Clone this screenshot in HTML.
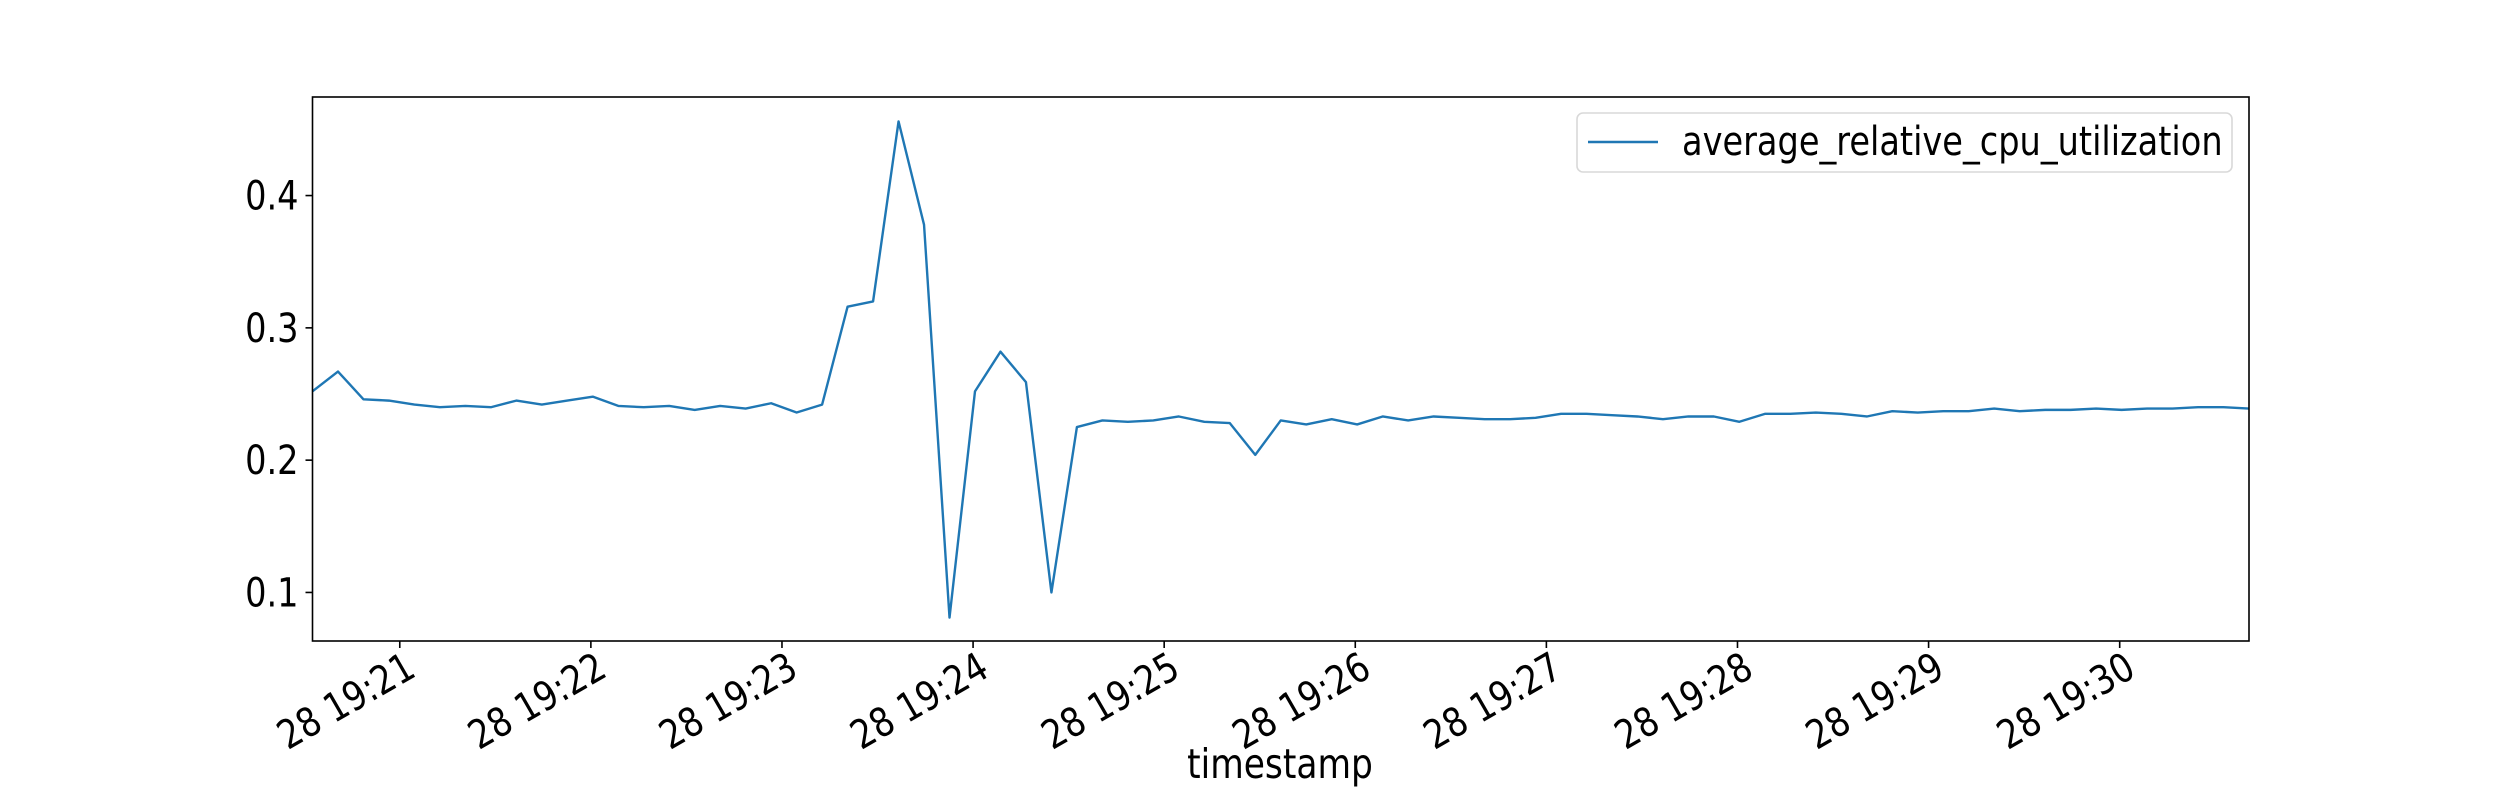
<!DOCTYPE html>
<html><head><meta charset="utf-8"><style>
html,body{margin:0;padding:0;background:#fff;}
svg{display:block;font-family:"DejaVu Sans","Liberation Sans",sans-serif;}
</style></head><body>
<svg id="chart" width="2500" height="800" viewBox="0 0 2500 800" xmlns="http://www.w3.org/2000/svg">
<rect x="0" y="0" width="2500" height="800" fill="#fff"/>
<polyline id="series-line" fill="none" stroke="#1f77b4" stroke-width="2.4" stroke-linejoin="round"/>
<rect x="312.5" y="97" width="1936.5" height="544" fill="none" stroke="#000" stroke-width="1.6"/>
<g id="yticks"></g>
<g id="xticks"></g>
<text transform="translate(1280 778) scale(0.84 1)" text-anchor="middle" font-size="41">timestamp</text>
<g>
<rect x="1577" y="113" width="655" height="59" rx="6" fill="#fff" stroke="#d9d9d9" stroke-width="1.6"/>
<line x1="1588" y1="142" x2="1658" y2="142" stroke="#1f77b4" stroke-width="2.6"/>
<text transform="translate(1682 155) scale(0.84 1)" font-size="40">average_relative_cpu_utilization</text>
</g>
</svg>
<script>
const values = [0.252,0.267,0.246,0.245,0.242,0.240,0.241,0.240,0.245,0.242,0.245,0.248,0.241,0.240,0.241,0.238,0.241,0.239,0.243,0.236,0.242,0.316,0.320,0.456,0.378,0.081,0.252,0.282,0.259,0.100,0.225,0.230,0.229,0.230,0.233,0.229,0.228,0.204,0.230,0.227,0.231,0.227,0.233,0.230,0.233,0.232,0.231,0.231,0.232,0.235,0.235,0.234,0.233,0.231,0.233,0.233,0.229,0.235,0.235,0.236,0.235,0.233,0.237,0.236,0.237,0.237,0.239,0.237,0.238,0.238,0.239,0.238,0.239,0.239,0.240,0.240,0.239];
const startSec = 19*3600 + 20*60 + 32.6;
const stepSec = 8;
const yTicks = [0.1, 0.2, 0.3, 0.4];
const yTickLabels = ["0.1", "0.2", "0.3", "0.4"];
const xTickMinutes = [21,22,23,24,25,26,27,28,29,30];
const xTickLabels = ["28 19:21","28 19:22","28 19:23","28 19:24","28 19:25","28 19:26","28 19:27","28 19:28","28 19:29","28 19:30"];

const NS = "http://www.w3.org/2000/svg";
const L = 312.5, R = 2249, T = 97, B = 641;
const yMin = 0.0633, yMax = 0.4745;
const times = values.map((v, i) => startSec + i * stepSec);
const tMin = times[0], tMax = times[times.length - 1];
const xs = t => L + (t - tMin) / (tMax - tMin) * (R - L);
const ys = v => B - (v - yMin) / (yMax - yMin) * (B - T);

document.getElementById('series-line').setAttribute('points',
  values.map((v, i) => xs(times[i]).toFixed(2) + ',' + ys(v).toFixed(2)).join(' '));

const yg = document.getElementById('yticks');
yTicks.forEach((v, i) => {
  const y = ys(v);
  const ln = document.createElementNS(NS, 'line');
  ln.setAttribute('x1', L - 7); ln.setAttribute('x2', L); ln.setAttribute('y1', y); ln.setAttribute('y2', y);
  ln.setAttribute('stroke', '#000'); ln.setAttribute('stroke-width', '1.6');
  
  
  yg.appendChild(ln);
  const tx = document.createElementNS(NS, 'text');
  tx.setAttribute('transform', 'translate(' + (L - 14) + ' ' + (y + 14) + ') scale(0.84 1)');
  tx.setAttribute('text-anchor', 'end'); tx.setAttribute('font-size', '40');
  tx.textContent = yTickLabels[i];
  
  
  yg.appendChild(tx);
});

const xg = document.getElementById('xticks');
xTickMinutes.forEach((m, i) => {
  const x = xs(19*3600 + m*60);
  const ln = document.createElementNS(NS, 'line');
  ln.setAttribute('x1', x); ln.setAttribute('x2', x); ln.setAttribute('y1', B); ln.setAttribute('y2', B + 7);
  ln.setAttribute('stroke', '#000'); ln.setAttribute('stroke-width', '1.6');
  
  
  xg.appendChild(ln);
  const tx = document.createElementNS(NS, 'text');
  tx.setAttribute('transform', 'translate(' + (x + 4) + ' ' + (B + 10) + ') rotate(-30) translate(0 28) scale(0.84 1)');
  tx.setAttribute('text-anchor', 'end'); tx.setAttribute('font-size', '40');
  tx.textContent = xTickLabels[i];
  
  
  xg.appendChild(tx);
});
</script>
</body></html>
